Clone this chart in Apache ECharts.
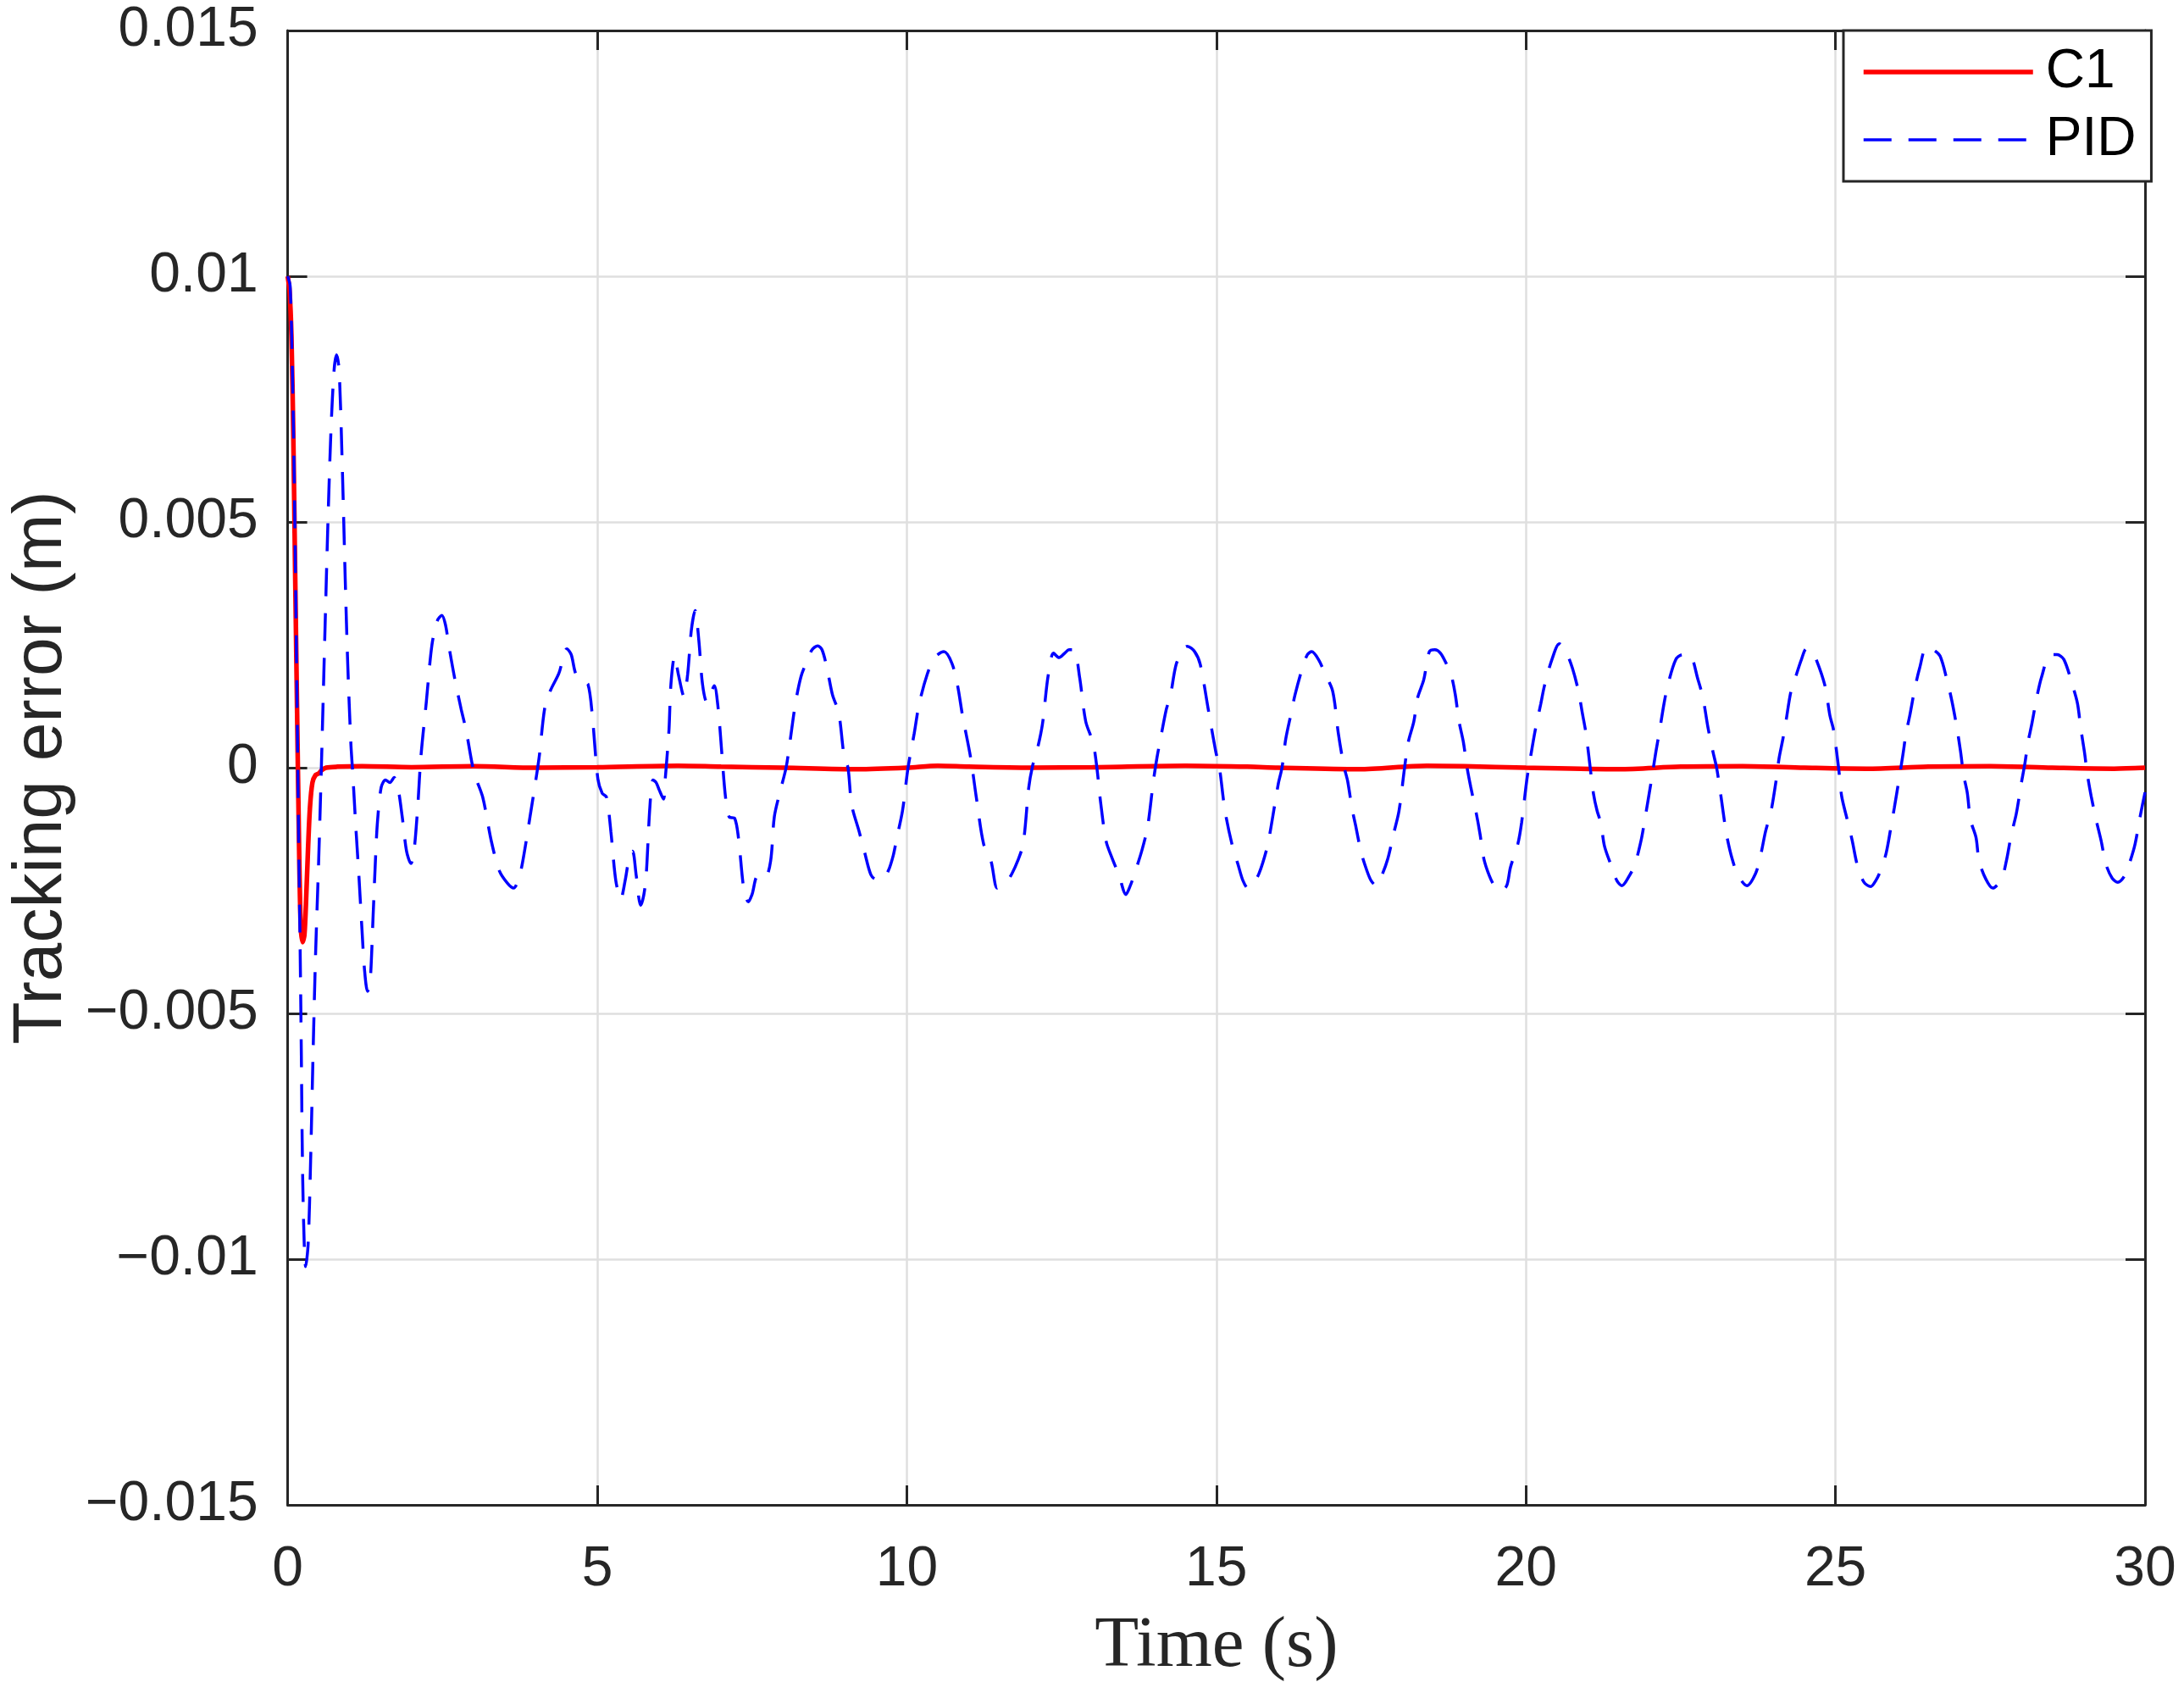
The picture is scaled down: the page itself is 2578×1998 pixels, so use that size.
<!DOCTYPE html>
<html>
<head>
<meta charset="utf-8">
<title>Tracking error</title>
<script src="https://cdn.jsdelivr.net/npm/echarts@6/dist/echarts.min.js"></script>
<style>
  html, body { margin: 0; padding: 0; background: #fff; }
  #chart { width: 2578px; height: 1998px; }
</style>
</head>
<body>
<div id="chart"></div>
<script>
// values, errors in mm (converted to m below)
const c1Time = [0, 0.03, 0.06, 0.09, 0.12, 0.15, 0.18, 0.21, 0.24, 0.27, 0.3, 0.33, 0.36, 0.4, 0.45, 0.5, 0.55, 0.62, 0.8, 1.2,
    2, 3, 4, 5, 6.3, 7, 8, 9.2, 10, 10.5, 11, 12, 13, 14.5, 15.5, 16, 17.3, 18.4, 19, 20, 21.5, 22.5, 23.5, 24.5, 25.5, 26.5, 27.5, 28.5, 29.5, 30];
const c1Mm = [10, 9.7, 8.8, 6.8, 4.0, 1.3, -1.3, -3.2, -3.55, -3.4, -2.6, -1.6, -0.8, -0.3, -0.15, -0.12, -0.05, 0.0, 0.02, 0.03,
    0.01, 0.03, 0.0, 0.01, 0.04, 0.02, 0.0, -0.03, 0.0, 0.04, 0.02, 0.0, 0.01, 0.04, 0.02, 0.0, -0.03, 0.04, 0.03, 0.0, -0.03, 0.02, 0.03, 0.0, -0.02, 0.02, 0.03, 0.0, -0.02, 0.0];

const pidTime = [0, 0.04, 0.08, 0.11, 0.15, 0.178, 0.2, 0.22, 0.234, 0.256, 0.29, 0.33, 0.37, 0.41, 0.45, 0.5, 0.55, 0.6, 0.65, 0.7,
    0.75, 0.79, 0.83, 0.88, 0.93, 0.97, 1.02, 1.05, 1.1, 1.15, 1.2, 1.24, 1.29, 1.33, 1.38, 1.42, 1.45, 1.51, 1.58, 1.65,
    1.72, 1.78, 1.85, 1.92, 1.99, 2.04, 2.1, 2.15, 2.24, 2.33, 2.42, 2.49, 2.55, 2.6, 2.7, 2.8, 2.88, 3.01, 3.15, 3.29,
    3.42, 3.55, 3.65, 3.72, 3.79, 3.92, 4.06, 4.15, 4.24, 4.38, 4.51, 4.58, 4.65, 4.75, 4.85, 4.92, 5.01, 5.08, 5.15, 5.22,
    5.3, 5.38, 5.45, 5.52, 5.57, 5.63, 5.7, 5.75, 5.79, 5.85, 5.9, 5.95, 6.0, 6.07, 6.1, 6.13, 6.16, 6.19, 6.25, 6.31,
    6.4, 6.46, 6.52, 6.58, 6.64, 6.7, 6.77, 6.83, 6.89, 6.95, 7.01, 7.07, 7.13, 7.22, 7.28, 7.37, 7.44, 7.5, 7.59, 7.71,
    7.8, 7.86, 7.95, 8.05, 8.11, 8.2, 8.29, 8.38, 8.47, 8.56, 8.63, 8.71, 8.8, 8.9, 8.99, 9.05, 9.11, 9.23, 9.32, 9.42,
    9.5, 9.6, 9.7, 9.78, 9.84, 9.93, 10.02, 10.12, 10.2, 10.33, 10.45, 10.6, 10.73, 10.82, 10.9, 11.03, 11.12, 11.24, 11.36, 11.46,
    11.53, 11.61, 11.7, 11.79, 11.88, 11.97, 12.03, 12.1, 12.19, 12.28, 12.37, 12.46, 12.55, 12.62, 12.7, 12.79, 12.89, 13.01, 13.07, 13.13,
    13.22, 13.31, 13.43, 13.54, 13.61, 13.68, 13.8, 13.89, 13.98, 14.04, 14.1, 14.19, 14.26, 14.35, 14.47, 14.53, 14.65, 14.74, 14.87, 14.99,
    15.05, 15.14, 15.26, 15.35, 15.43, 15.51, 15.6, 15.69, 15.81, 15.87, 16.0, 16.06, 16.12, 16.21, 16.27, 16.39, 16.47, 16.54, 16.65, 16.76,
    16.88, 16.97, 17.06, 17.12, 17.19, 17.25, 17.34, 17.43, 17.5, 17.58, 17.67, 17.77, 17.86, 17.95, 18.04, 18.1, 18.19, 18.25, 18.35, 18.44,
    18.53, 18.62, 18.72, 18.8, 18.86, 18.92, 18.99, 19.05, 19.11, 19.2, 19.26, 19.32, 19.41, 19.5, 19.6, 19.69, 19.75, 19.87, 19.93, 20.02,
    20.09, 20.15, 20.24, 20.3, 20.42, 20.54, 20.65, 20.75, 20.85, 20.91, 20.97, 21.03, 21.09, 21.15, 21.21, 21.27, 21.39, 21.47, 21.55, 21.67,
    21.76, 21.86, 21.92, 22.04, 22.1, 22.16, 22.23, 22.29, 22.42, 22.53, 22.64, 22.78, 22.86, 22.94, 23.02, 23.08, 23.13, 23.19, 23.24, 23.33,
    23.43, 23.57, 23.71, 23.79, 23.87, 23.96, 24.04, 24.09, 24.15, 24.2, 24.28, 24.37, 24.45, 24.53, 24.61, 24.69, 24.83, 24.91, 24.97, 25.05,
    25.1, 25.19, 25.27, 25.35, 25.46, 25.57, 25.65, 25.73, 25.82, 25.9, 25.95, 26.03, 26.09, 26.14, 26.2, 26.28, 26.36, 26.47, 26.58, 26.69,
    26.8, 26.88, 26.96, 27.02, 27.07, 27.13, 27.18, 27.27, 27.32, 27.43, 27.54, 27.68, 27.76, 27.84, 27.92, 28.0, 28.06, 28.11, 28.17, 28.25,
    28.33, 28.47, 28.58, 28.69, 28.83, 28.91, 28.96, 29.02, 29.07, 29.13, 29.21, 29.29, 29.37, 29.47, 29.56, 29.67, 29.76, 29.84, 29.92, 30.0];
const pidMm = [10, 9.8, 7.8, 5.5, 1.4, -1.6, -3.6, -5.8, -7.6, -9.2, -10.15, -9.7, -8.0, -5.8, -3.8, -1.9, 0.3, 2.7, 5.0, 6.9,
    8.1, 8.4, 8.1, 6.2, 3.8, 2.1, 0.5, -0.1, -1.2, -2.2, -3.3, -4.1, -4.55, -4.4, -3.0, -1.8, -1.1, -0.4, -0.25, -0.3,
    -0.2, -0.4, -1.0, -1.7, -1.95, -1.7, -0.8, 0.2, 1.35, 2.5, 3.0, 3.1, 2.9, 2.5, 1.8, 1.2, 0.77, -0.1, -0.6, -1.5,
    -2.1, -2.35, -2.45, -2.3, -1.95, -0.95, 0.2, 1.2, 1.56, 1.92, 2.42, 2.3, 1.92, 1.75, 1.7, 1.06, -0.23, -0.52, -0.6, -1.3,
    -2.3, -2.67, -2.3, -1.8, -1.7, -2.2, -2.8, -2.6, -2.2, -0.8, -0.25, -0.3, -0.45, -0.64, -0.2, 0.27, 0.8, 1.7, 2.27, 1.9,
    1.45, 1.9, 2.8, 3.2, 2.6, 1.7, 1.33, 1.5, 1.67, 1.24, 0.33, -0.58, -1.0, -1.03, -1.42, -2.5, -2.73, -2.58, -2.21, -2.24,
    -1.9, -1.0, -0.5, 0, 0.5, 1.3, 1.85, 2.15, 2.4, 2.48, 2.4, 2.03, 1.48, 1.12, 0.21, 0, -0.76, -1.3, -1.73, -2.18,
    -2.27, -2.27, -2.1, -1.79, -1.42, -0.88, 0, 0.7, 1.3, 1.9, 2.24, 2.36, 2.12, 1.67, 1.06, 0.21, -0.58, -1.55, -1.9, -2.45,
    -2.4, -2.33, -2.15, -1.9, -1.55, -0.4, 0.03, 0.33, 0.88, 1.85, 2.33, 2.24, 2.33, 2.4, 2.4, 1.85, 0.94, 0.5, 0, -0.7,
    -1.5, -1.82, -2.2, -2.58, -2.4, -2.15, -1.67, -1.2, -0.3, 0.2, 0.6, 1.18, 1.48, 2.1, 2.42, 2.47, 2.36, 2.1, 1.18, 0.33,
    0, -0.88, -1.6, -1.97, -2.3, -2.45, -2.35, -2.15, -1.67, -1.3, -0.33, 0, 0.58, 1.12, 1.48, 2.03, 2.3, 2.36, 2.2, 1.9,
    1.55, 0.7, 0.03, -0.27, -0.82, -1.18, -1.73, -2.09, -2.3, -2.4, -2.2, -1.85, -1.36, -0.88, 0, 0.52, 0.94, 1.42, 1.79, 2.36,
    2.4, 2.33, 2.1, 1.85, 1.48, 0.94, 0.52, 0, -0.4, -0.94, -1.36, -1.85, -2.2, -2.42, -2.5, -2.4, -2.03, -1.55, -1.12, -0.2,
    0.33, 0.76, 1.3, 1.67, 2.2, 2.52, 2.35, 2.03, 1.55, 1.12, 0.7, 0.09, -0.52, -0.88, -1.12, -1.6, -2.03, -2.3, -2.4, -2.2,
    -1.97, -1.48, -1.06, -0.15, 0.33, 0.76, 1.3, 1.67, 2.2, 2.3, 2.3, 1.79, 1.42, 0.82, 0.33, 0, -0.4, -0.94, -1.36, -1.85,
    -2.2, -2.4, -2.15, -1.79, -1.3, -0.88, -0.27, 0.2, 0.58, 0.94, 1.55, 1.9, 2.2, 2.42, 2.38, 2.2, 1.67, 1.06, 0.76, 0,
    -0.58, -1.06, -1.48, -1.97, -2.33, -2.42, -2.3, -2.09, -1.73, -1.18, -0.82, -0.21, 0.27, 0.7, 1.06, 1.6, 2.03, 2.45, 2.4, 2.27,
    1.79, 1.36, 0.82, 0.33, -0.15, -0.52, -1.06, -1.42, -1.9, -2.27, -2.45, -2.27, -1.9, -1.36, -0.94, -0.33, 0.09, 0.52, 0.88, 1.42,
    1.85, 2.3, 2.3, 2.2, 1.67, 1.3, 0.82, 0.33, -0.15, -0.58, -1.06, -1.48, -1.97, -2.25, -2.33, -2.2, -1.9, -1.55, -1.0, -0.5];

const xTicks = [0, 5, 10, 15, 20, 25, 30];
const yTicks = [-0.015, -0.01, -0.005, 0, 0.005, 0.01, 0.015];
const seriesNames = ['C1', 'PID'];

const axisColor = '#262626';
const gridColor = '#dfdfdf';
const sans = '"Liberation Sans", Arial, Helvetica, sans-serif';

function toPairs(ts, mm) {
    return ts.map((t, i) => [t, mm[i] / 1000]);
}

function fmtY(v) {
    const s = String(Number(v.toFixed(3)));
    return s.replace('-', '\u2212');
}

var chart = echarts.init(document.getElementById('chart'), null, { renderer: 'canvas' });

const tickStyle = { show: true, inside: true, length: 23, lineStyle: { color: axisColor, width: 3 } };
const lineStyle = { show: true, onZero: false, lineStyle: { color: axisColor, width: 3 } };

let option = {
    backgroundColor: '#ffffff',
    animation: false,
    grid: { left: 337, right: 46, top: 36, bottom: 222, containLabel: false },
    legend: {
        orient: 'vertical',
        left: 2176,
        top: 36,
        data: seriesNames,
        backgroundColor: '#ffffff',
        borderColor: axisColor,
        borderWidth: 3,
        borderRadius: 0,
        padding: [17, 18, 17, 21],
        itemWidth: 200,
        itemHeight: 6,
        itemGap: 16,
        itemStyle: { opacity: 0 },
        lineStyle: { width: 'inherit', type: 'inherit' },
        textStyle: { fontSize: 64, lineHeight: 64, color: '#000', fontFamily: sans, padding: [0, 0, 0, 10] }
    },
    xAxis: [
        {
            type: 'value', min: 0, max: 30, interval: 5,
            axisLine: lineStyle, axisTick: tickStyle,
            splitLine: { show: true, lineStyle: { color: gridColor, width: 2.5 } },
            axisLabel: { fontSize: 66, color: axisColor, fontFamily: sans, margin: 44,
                formatter: v => (xTicks.indexOf(v) >= 0 ? String(v) : '') },
            name: 'Time (s)', nameLocation: 'middle', nameGap: 125,
            nameTextStyle: { fontSize: 85, color: '#262626', fontFamily: '"Liberation Serif", "Times New Roman", serif' }
        },
        {
            type: 'value', position: 'top', min: 0, max: 30, interval: 5,
            axisLine: lineStyle, axisTick: tickStyle,
            splitLine: { show: false }, axisLabel: { show: false }
        }
    ],
    yAxis: [
        {
            type: 'value', min: -0.015, max: 0.015, interval: 0.005,
            axisLine: lineStyle, axisTick: tickStyle,
            splitLine: { show: true, lineStyle: { color: gridColor, width: 2.5 } },
            axisLabel: { fontSize: 66, color: axisColor, fontFamily: sans, margin: 35, formatter: fmtY },
            name: 'Tracking error (m)', nameLocation: 'middle', nameGap: 238, nameRotate: 90,
            nameTextStyle: { fontSize: 82, color: '#262626', fontFamily: sans }
        },
        {
            type: 'value', position: 'right', min: -0.015, max: 0.015, interval: 0.005,
            axisLine: lineStyle, axisTick: tickStyle,
            splitLine: { show: false }, axisLabel: { show: false }
        }
    ],
    series: [
        {
            name: seriesNames[0], type: 'line', xAxisIndex: 0, yAxisIndex: 0,
            data: toPairs(c1Time, c1Mm),
            symbol: 'none', smooth: 0.3, color: '#ff0000',
            lineStyle: { color: '#ff0000', width: 5.5 }, z: 3
        },
        {
            name: seriesNames[1], type: 'line', xAxisIndex: 0, yAxisIndex: 0,
            data: toPairs(pidTime, pidMm),
            symbol: 'none', smooth: 0.3, color: '#0000ff',
            lineStyle: { color: '#0000ff', width: 3.5, type: [33, 20], cap: 'butt' }, z: 4
        }
    ]
};

chart.setOption(option);
</script>
</body>
</html>
